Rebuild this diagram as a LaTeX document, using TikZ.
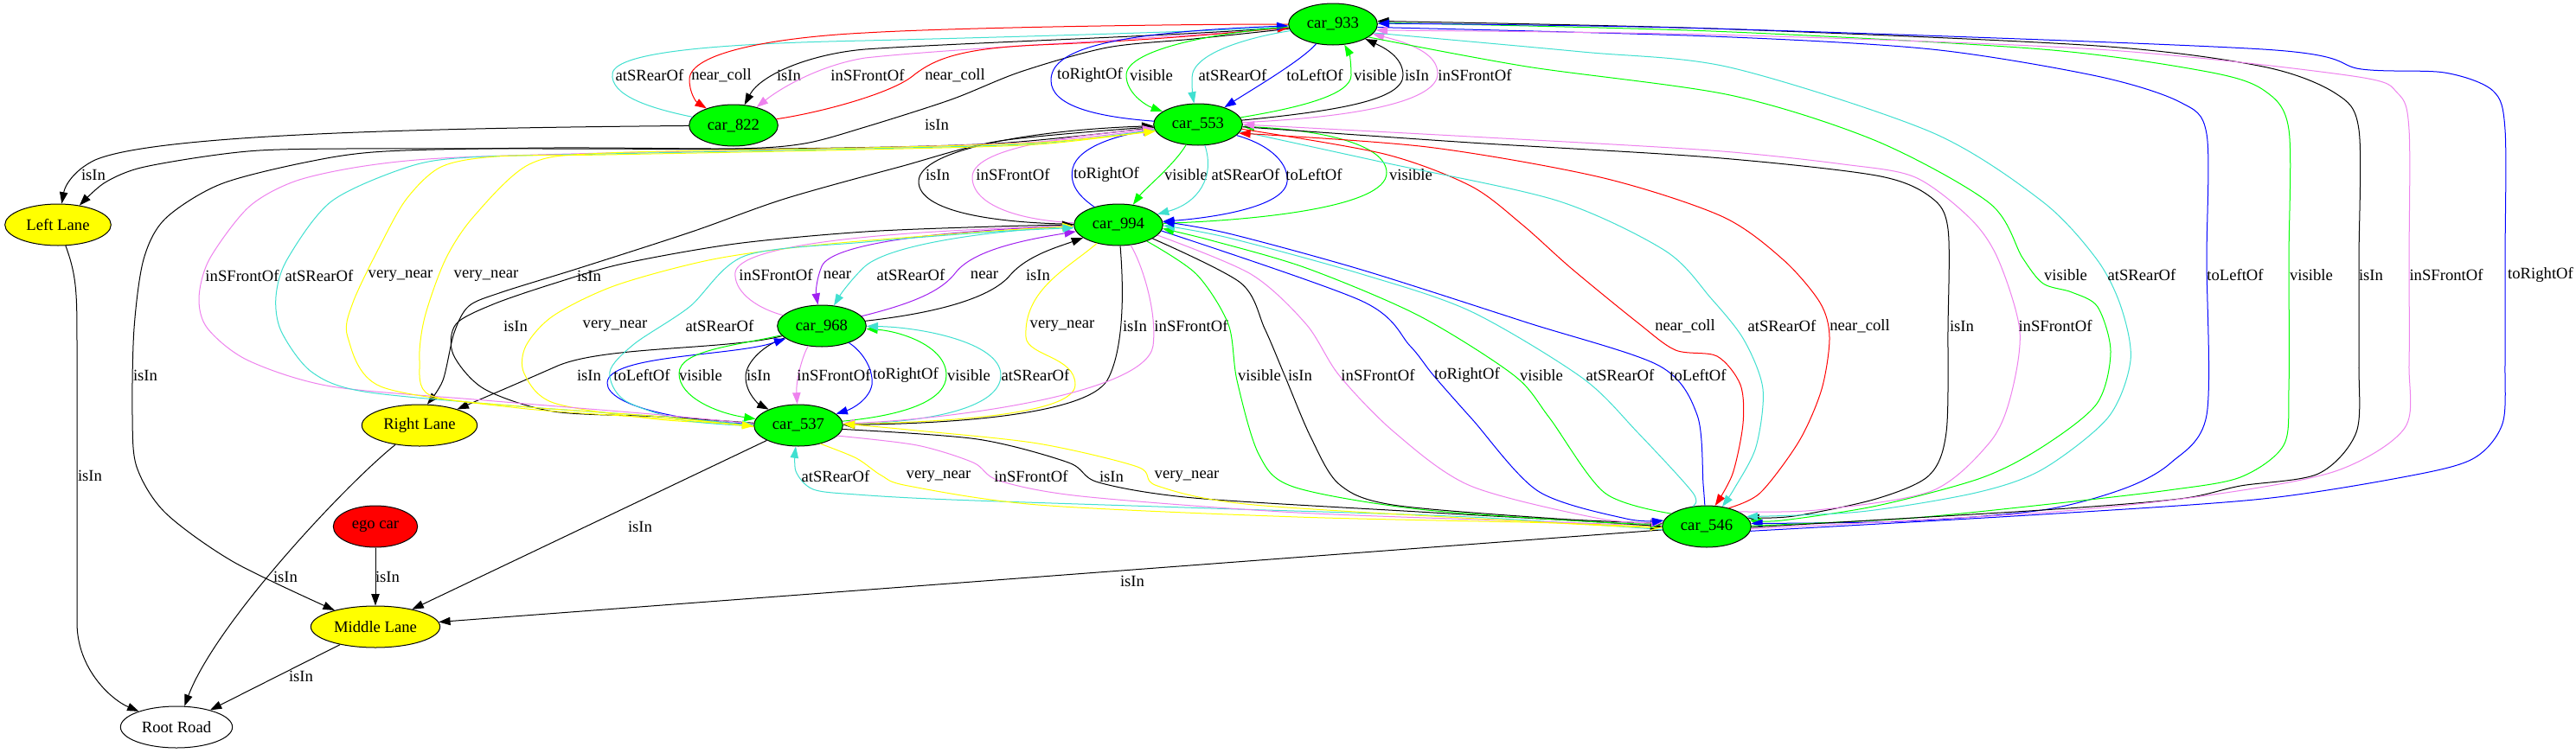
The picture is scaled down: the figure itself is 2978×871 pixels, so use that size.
\documentclass[tikz,border=0pt]{standalone}
\usepackage{fontspec}
\setmainfont{Liberation Serif}
\usepackage{xcolor}
\usepackage{tikz}
\usetikzlibrary{shapes.geometric, arrows.meta}
\definecolor{GVGreen}{RGB}{0,255,0}
\definecolor{GVYellow}{RGB}{255,255,0}
\definecolor{GVRed}{RGB}{255,0,0}
\definecolor{GVBlue}{RGB}{0,0,255}
\definecolor{GVTurq}{RGB}{64,224,208}
\definecolor{GVViolet}{RGB}{238,130,238}
\definecolor{GVPurple}{RGB}{160,32,240}
\tikzset{
    carnode/.style={
        ellipse, draw, line width=0.75pt, fill=GVGreen,
        minimum width=77pt, minimum height=36pt, inner sep=0pt
    },
    lanenode/.style={
        ellipse, draw, line width=0.75pt, fill=GVYellow,
        minimum height=36pt, inner sep=0pt
    },
    rel/.style={
        -{Triangle[length=10pt,width=7pt]}, line width=0.75pt
    },
    rellabel/.style={
        inner sep=0pt, text=black
    }
}
\begin{document}
\begin{tikzpicture}[
            x=0.75pt, y=-0.75pt,
            every node/.style={font=\fontsize{14pt}{16pt}\selectfont},
            % Style cho tung quan he
            isInE/.style={rel, black},
            nearCollE/.style={rel, GVRed},
            visibleE/.style={rel, GVGreen},
            rightOfE/.style={rel, GVBlue},
            leftOfE/.style={rel, GVBlue},
            rearE/.style={rel, GVTurq},
            frontE/.style={rel, GVViolet},
            veryNearE/.style={rel, GVYellow},
            nearE/.style={rel, GVPurple}
        ]
            \fill[white] (0,0) rectangle (2978,871);
            \useasboundingbox (0,0) rectangle (2978,871);

            % --- 1. NODES ---
            \node[carnode] (c933) at (1541,28) {car\_933};
            \node[carnode] (c822) at (848,145) {car\_822};
            \node[carnode] (c553) at (1385,144) {car\_553};
            \node[carnode] (c994) at (1293,260) {car\_994};
            \node[carnode] (c968) at (950,377) {car\_968};
            \node[carnode] (c537) at (923,492) {car\_537};
            \node[carnode] (c546) at (1973,609) {car\_546};
            \node[lanenode, minimum width=92pt] (left) at (67,260) {Left Lane};
            \node[lanenode, minimum width=100pt] (right) at (485,492) {Right Lane};
            \node[lanenode, minimum width=112pt] (middle) at (434,725) {Middle Lane};
            \node[carnode, fill=GVRed, minimum width=73pt] (ego) at (434,609) {ego car};
            \node[ellipse, draw, line width=0.75pt, minimum width=97pt, minimum height=36pt, inner sep=0pt] (root) at (204,841) {Root Road};

            % --- 2. LANES ---
            \draw[isInE] (c822) .. controls (500,148) and (180,155) .. (110,185) .. controls (85,197) and (75,215) .. (left) node[rellabel] at (108,202) {isIn};
            \draw[isInE] plot[smooth] coordinates {(c933.186) (1380,45) (1280,55) (1180,83) (1100,115) (1000,147) (930,166) (850,172) (640,172) (400,172) (300,174) (230,182) (159,195) (120,212) (left.42)} node[rellabel] at (1083,144) {isIn};
            \draw[isInE] plot[smooth] coordinates {(c553.184) (1150,166) (900,172) (640,171) (446,175) (357,187) (255,213) (191,253) (166,300) (155,380) (153,480) (158,540) (191,593) (270,650) (middle.158)} node[rellabel] at (168,434) {isIn};
            \draw[isInE] plot[smooth] coordinates {(c553.183) (1156,163) (1040,193) (907,230) (800,268) (670,310) (580,338) (542,354) (525,385) (512,440) (right.70)} node[rellabel] at (596,377) {isIn};
            \draw[isInE] (c968) .. controls (840,405) and (700,400) .. (645,423) .. controls (595,445) and (548,465) .. (right) node[rellabel] at (681,434) {isIn};
            \draw[isInE] (left) .. controls (89,320) and (89,340) .. (89,400) -- (89,720) .. controls (89,775) and (130,810) .. (root) node[rellabel] at (104,550) {isIn};
            \draw[isInE] (right) .. controls (400,560) and (250,720) .. (root) node[rellabel] at (330,667) {isIn};
            \draw[isInE] (middle) -- (root) node[rellabel] at (348,782) {isIn};
            \draw[isInE] (ego) -- (middle) node[rellabel] at (448,667) {isIn};
            \draw[isInE] (c537) -- (middle) node[rellabel] at (740,609) {isIn};
            \draw[isInE] (c546) -- (middle) node[rellabel] at (1309,672) {isIn};

            % --- 3. car_933 - car_822 ---
            \draw[rearE] (c822) .. controls (750,125) and (705,110) .. (708,85) .. controls (712,58) and (850,50) .. (1000,47) .. controls (1200,42) and (1400,36) .. (c933) node[rellabel] at (751,87) {atSRearOf};
            \draw[nearCollE] (c933) .. controls (1350,28) and (1100,32) .. (1000,38) .. controls (900,43) and (797,60) .. (797,92) .. controls (797,108) and (805,118) .. (c822) node[rellabel] at (834,87) {near\_coll};
            \draw[isInE] (c933) .. controls (1350,42) and (1100,50) .. (1000,57) .. controls (940,62) and (880,85) .. (c822) node[rellabel] at (912,87) {isIn};
            \draw[frontE] (c933) .. controls (1350,44) and (1100,56) .. (1000,67) .. controls (950,75) and (905,100) .. (c822) node[rellabel] at (1003,87) {inSFrontOf};
            \draw[nearCollE] (c822) .. controls (950,130) and (1030,108) .. (1055,88) .. controls (1080,68) and (1110,56) .. (1200,52) .. controls (1350,46) and (1440,36) .. (c933) node[rellabel] at (1104,87) {near\_coll};

            % --- 4. car_933 - car_553 ---
            \draw[rightOfE] (c553) .. controls (1265,135) and (1215,122) .. (1215,93) .. controls (1215,60) and (1270,38) .. (c933) node[rellabel] at (1260,87) {toRightOf};
            \draw[visibleE] (c933) .. controls (1420,36) and (1302,55) .. (1302,87) .. controls (1302,108) and (1325,122) .. (c553) node[rellabel] at (1331,87) {visible};
            \draw[rearE] (c933) .. controls (1450,42) and (1378,60) .. (1378,90) .. controls (1378,105) and (1379,112) .. (c553) node[rellabel] at (1425,87) {atSRearOf};
            \draw[leftOfE] (c933) .. controls (1505,70) and (1445,105) .. (c553) node[rellabel] at (1520,87) {toLeftOf};
            \draw[visibleE] (c553) .. controls (1500,125) and (1562,110) .. (1562,87) .. controls (1562,72) and (1560,62) .. (c933) node[rellabel] at (1590,87) {visible};
            \draw[isInE] (c553) .. controls (1550,128) and (1622,115) .. (1622,87) .. controls (1622,66) and (1600,55) .. (c933) node[rellabel] at (1638,87) {isIn};
            \draw[frontE] (c553) .. controls (1580,135) and (1662,115) .. (1662,85) .. controls (1662,62) and (1630,50) .. (c933) node[rellabel] at (1705,87) {inSFrontOf};

            % --- 5. car_553 - car_994 ---
            \draw[isInE] (c994) .. controls (1150,258) and (1062,245) .. (1062,210) .. controls (1062,172) and (1200,150) .. (c553) node[rellabel] at (1084,202) {isIn};
            \draw[frontE] (c994) .. controls (1180,255) and (1124,238) .. (1124,205) .. controls (1124,172) and (1230,158) .. (c553) node[rellabel] at (1171,202) {inSFrontOf};
            \draw[rightOfE] (c994) .. controls (1255,232) and (1235,218) .. (1240,195) .. controls (1246,168) and (1300,155) .. (c553) node[rellabel] at (1279,202) {toRightOf};
            \draw[visibleE] (c553) .. controls (1358,190) and (1322,220) .. (c994) node[rellabel] at (1371,202) {visible};
            \draw[rearE] (c553) .. controls (1405,205) and (1385,235) .. (c994) node[rellabel] at (1440,202) {atSRearOf};
            \draw[leftOfE] (c553) .. controls (1470,168) and (1490,190) .. (1488,210) .. controls (1485,240) and (1400,252) .. (c994) node[rellabel] at (1519,202) {toLeftOf};
            \draw[visibleE] (c994) .. controls (1450,255) and (1603,240) .. (1603,200) .. controls (1603,165) and (1520,150) .. (c553) node[rellabel] at (1631,202) {visible};

            % --- 6. car_994 - car_968 ---
            \draw[frontE] (c968) .. controls (870,355) and (848,335) .. (850,315) .. controls (855,285) and (1000,268) .. (c994) node[rellabel] at (897,318) {inSFrontOf};
            \draw[nearE] (c994) .. controls (1100,266) and (962,280) .. (950,308) .. controls (944,322) and (943,338) .. (c968) node[rellabel] at (968,318) {near};
            \draw[rearE] (c994) .. controls (1150,266) and (1030,282) .. (1000,308) .. controls (985,322) and (972,340) .. (c968) node[rellabel] at (1053,318) {atSRearOf};
            \draw[nearE] (c968) .. controls (1060,350) and (1090,335) .. (1105,315) .. controls (1125,290) and (1180,278) .. (c994) node[rellabel] at (1138,318) {near};
            \draw[isInE] (c968) .. controls (1100,360) and (1150,340) .. (1168,318) .. controls (1188,295) and (1225,285) .. (c994) node[rellabel] at (1200,318) {isIn};

            % --- 7. car_968 - car_537 ---
            \draw[isInE] (c968) .. controls (885,398) and (862,418) .. (862,436) .. controls (862,455) and (878,468) .. (c537) node[rellabel] at (877,434) {isIn};
            \draw[frontE] (c968) .. controls (928,410) and (920,440) .. (c537) node[rellabel] at (964,434) {inSFrontOf};
            \draw[rightOfE] (c968) .. controls (995,405) and (1010,425) .. (1008,445) .. controls (1005,462) and (985,473) .. (c537) node[rellabel] at (1047,434) {toRightOf};
            \draw[visibleE] (c537) .. controls (1050,480) and (1094,462) .. (1094,434) .. controls (1094,400) and (1040,383) .. (c968) node[rellabel] at (1120,434) {visible};
            \draw[rearE] (c537) .. controls (1100,488) and (1157,465) .. (1157,434) .. controls (1157,395) and (1060,378) .. (c968) node[rellabel] at (1197,434) {atSRearOf};
            \draw[leftOfE] (c537) .. controls (790,488) and (702,470) .. (702,443) .. controls (702,410) and (850,412) .. (c968) node[rellabel] at (742,434) {toLeftOf};
            \draw[visibleE] (c968) .. controls (850,400) and (785,405) .. (785,432) .. controls (785,460) and (830,478) .. (c537) node[rellabel] at (810,434) {visible};

            % --- 8. car_537 - car_994 ---
            \draw[isInE] plot[smooth] coordinates {(c537.177) (765,482) (640,476) (560,450) (524,410) (527,375) (570,352) (640,328) (720,305) (850,282) (1000,268) (1150,262) (c994.180)} node[rellabel] at (681,319) {isIn};
            \draw[veryNearE] plot[smooth] coordinates {(c537.179) (760,485) (640,466) (606,432) (608,400) (640,365) (712,330) (824,300) (949,283) (1150,267) (c994.182)} node[rellabel] at (711,377) {very\_near};
            \draw[rearE] plot[smooth] coordinates {(c537.181) (790,486) (722,463) (705,430) (733,398) (797,355) (861,296) (1000,280) (1150,268) (c994.184)} node[rellabel] at (832,377) {atSRearOf};
            \draw[veryNearE] (c994) .. controls (1235,310) and (1183,335) .. (1186,390) .. controls (1188,412) and (1243,412) .. (1243,445) .. controls (1243,480) and (1090,488) .. (c537) node[rellabel] at (1228,377) {very\_near};
            \draw[isInE] (c994) .. controls (1298,320) and (1302,400) .. (1280,440) .. controls (1255,480) and (1100,490) .. (c537) node[rellabel] at (1312,377) {isIn};
            \draw[frontE] (c994) .. controls (1320,305) and (1338,360) .. (1333,400) .. controls (1325,455) and (1100,485) .. (c537) node[rellabel] at (1377,377) {inSFrontOf};

            % --- 9. car_537 - car_553 (vong ben trai) ---
            \draw[frontE] plot[smooth] coordinates {(c537.178) (765,480) (560,463) (383,447) (287,417) (240,380) (230,345) (242,300) (287,240) (340,210) (415,193) (510,183) (700,177) (1000,171) (1200,164) (c553.186)} node[rellabel] at (280,319) {inSFrontOf};
            \draw[rearE] plot[smooth] coordinates {(c553.187) (1200,166) (1000,172) (700,178) (542,182) (472,193) (383,233) (332,300) (319,343) (325,383) (360,430) (421,453) (600,470) (765,482) (c537.180)} node[rellabel] at (369,319) {atSRearOf};
            \draw[veryNearE] plot[smooth] coordinates {(c553.188) (1200,167) (1000,173) (700,179) (574,181) (510,193) (470,230) (440,283) (408,350) (402,390) (440,447) (600,472) (765,484) (c537.181)} node[rellabel] at (463,319) {very\_near};
            \draw[veryNearE] plot[smooth] coordinates {(c537.182) (765,482) (600,470) (497,457) (485,417) (491,367) (515,300) (548,250) (612,190) (701,177) (1000,171) (1200,165) (c553.189)} node[rellabel] at (562,319) {very\_near};

            % --- 10. car_537 - car_546 ---
            \draw[rearE] plot[smooth] coordinates {(c546.184) (1700,598) (1400,588) (1100,578) (990,572) (940,566) (920,545) (c537.-97)} node[rellabel] at (966,551) {atSRearOf};
            \draw[veryNearE] plot[smooth] coordinates {(c537.-40) (990,530) (1019,550) (1050,562) (1200,584) (1500,598) (1800,605) (c546.181)} node[rellabel] at (1085,551) {very\_near};
            \draw[frontE] plot[smooth] coordinates {(c537.-15) (1060,515) (1125,535) (1155,556) (1250,574) (1500,593) (1800,604) (c546.179)} node[rellabel] at (1192,551) {inSFrontOf};
            \draw[isInE] plot[smooth] coordinates {(c537.-5) (1130,508) (1235,535) (1270,558) (1380,576) (1640,592) (1850,604) (c546.180)} node[rellabel] at (1285,551) {isIn};
            \draw[veryNearE] plot[smooth] coordinates {(c546.182) (1800,605) (1450,584) (1338,562) (1315,540) (1200,513) (1060,498) (c537.2)} node[rellabel] at (1372,551) {very\_near};

            % --- 11. car_994 - car_546 ---
            \draw[visibleE] plot[smooth] coordinates {(c994.-30) (1383,317) (1420,375) (1430,440) (1455,525) (1495,563) (1640,589) (1850,604) (c546.177)} node[rellabel] at (1456,434) {visible};
            \draw[isInE] plot[smooth] coordinates {(c994.-22) (1434,327) (1462,380) (1485,434) (1515,505) (1548,560) (1610,584) (1800,600) (c546.176)} node[rellabel] at (1503,434) {isIn};
            \draw[frontE] plot[smooth] coordinates {(c994.-15) (1446,317) (1510,375) (1548,434) (1612,500) (1700,562) (1850,600) (c546.175)} node[rellabel] at (1593,434) {inSFrontOf};
            \draw[rightOfE] plot[smooth] coordinates {(c994.-8) (1574,348) (1630,400) (1657,434) (1702,485) (1778,568) (1880,600) (c546.172)} node[rellabel] at (1696,434) {toRightOf};
            \draw[visibleE] plot[smooth] coordinates {(c546.160) (1855,570) (1791,483) (1750,434) (1640,365) (1510,310) (1400,278) (c994.-5)} node[rellabel] at (1782,434) {visible};
            \draw[rearE] plot[smooth] coordinates {(c546.125) (1957,570) (1893,500) (1829,437) (1700,360) (1574,317) (1420,275) (c994.-1)} node[rellabel] at (1873,434) {atSRearOf};
            \draw[leftOfE] plot[smooth] coordinates {(c546.95) (1969,560) (1962,480) (1918,423) (1765,373) (1574,312) (1420,270) (c994.4)} node[rellabel] at (1963,434) {toLeftOf};

            % --- 12. car_553 - car_546 ---
            \draw[nearCollE] plot[smooth] coordinates {(c553.-6) (1600,178) (1700,215) (1760,260) (1816,310) (1893,373) (1937,405) (1985,412) (2012,445) (2015,490) (2003,548) (c546.68)} node[rellabel] at (1948,377) {near\_coll};
            \draw[rearE] plot[smooth] coordinates {(c553.-9) (1600,188) (1800,232) (1925,290) (1978,345) (2016,393) (2038,450) (2030,517) (2005,565) (c546.52)} node[rellabel] at (2060,377) {atSRearOf};
            \draw[nearCollE] plot[smooth] coordinates {(c546.40) (2035,570) (2080,510) (2106,450) (2115,390) (2104,350) (2061,300) (1990,250) (1850,205) (1650,170) (c553.-12)} node[rellabel] at (2150,377) {near\_coll};
            \draw[isInE] plot[smooth] coordinates {(c553.-3) (1700,165) (1978,182) (2169,203) (2232,228) (2252,265) (2252,380) (2250,500) (2230,550) (2169,577) (2074,597) (c546.12)} node[rellabel] at (2268,377) {isIn};
            \draw[frontE] plot[smooth] coordinates {(c546.25) (2100,590) (2233,568) (2300,512) (2324,460) (2335,383) (2310,300) (2278,253) (2214,205) (2131,190) (1978,174) (1700,158) (c553.0)} node[rellabel] at (2376,377) {inSFrontOf};

            % --- 13. car_933 - car_546 (vong ben phai) ---
            \draw[visibleE] plot[smooth] coordinates {(c933.-20) (1765,77) (2000,110) (2169,163) (2300,235) (2338,298) (2362,328) (2395,338) (2425,355) (2440,407) (2424,467) (2361,517) (2290,553) (2170,585) (2060,602) (c546.8)} node[rellabel] at (2388,318) {visible};
            \draw[rearE] plot[smooth] coordinates {(c933.-12) (1829,60) (2000,78) (2233,153) (2361,233) (2424,300) (2452,355) (2463,417) (2437,483) (2361,543) (2284,570) (2150,592) (c546.14)} node[rellabel] at (2476,318) {atSRearOf};
            \draw[leftOfE] plot[smooth] coordinates {(c933.-4) (1978,42) (2233,57) (2424,88) (2520,118) (2551,155) (2551,300) (2551,480) (2510,535) (2456,565) (2361,590) (2200,603) (c546.4)} node[rellabel] at (2584,318) {toLeftOf};
            \draw[visibleE] plot[smooth] coordinates {(c546.1) (2200,600) (2361,584) (2507,567) (2590,552) (2640,515) (2646,450) (2646,300) (2646,150) (2618,105) (2552,83) (2361,57) (1978,36) (c933.2)} node[rellabel] at (2672,318) {visible};
            \draw[isInE] plot[smooth] coordinates {(c546.-1) (2361,590) (2520,577) (2590,562) (2680,548) (2724,500) (2727,420) (2727,300) (2727,150) (2700,108) (2616,77) (2424,53) (1978,33) (c933.4)} node[rellabel] at (2741,318) {isIn};
            \draw[frontE] plot[smooth] coordinates {(c546.-3) (2361,593) (2552,573) (2700,545) (2780,495) (2785,420) (2785,300) (2785,150) (2772,108) (2720,88) (2424,57) (1978,40) (c933.-8)} node[rellabel] at (2828,318) {inSFrontOf};
            \draw[rightOfE] plot[smooth] coordinates {(c546.-6) (2361,595) (2616,577) (2788,550) (2860,530) (2893,490) (2896,420) (2896,300) (2896,150) (2882,105) (2826,84) (2730,80) (2616,57) (1978,33) (c933.1)} node[rellabel] at (2937,318) {toRightOf};

        \end{tikzpicture}
\end{document}
